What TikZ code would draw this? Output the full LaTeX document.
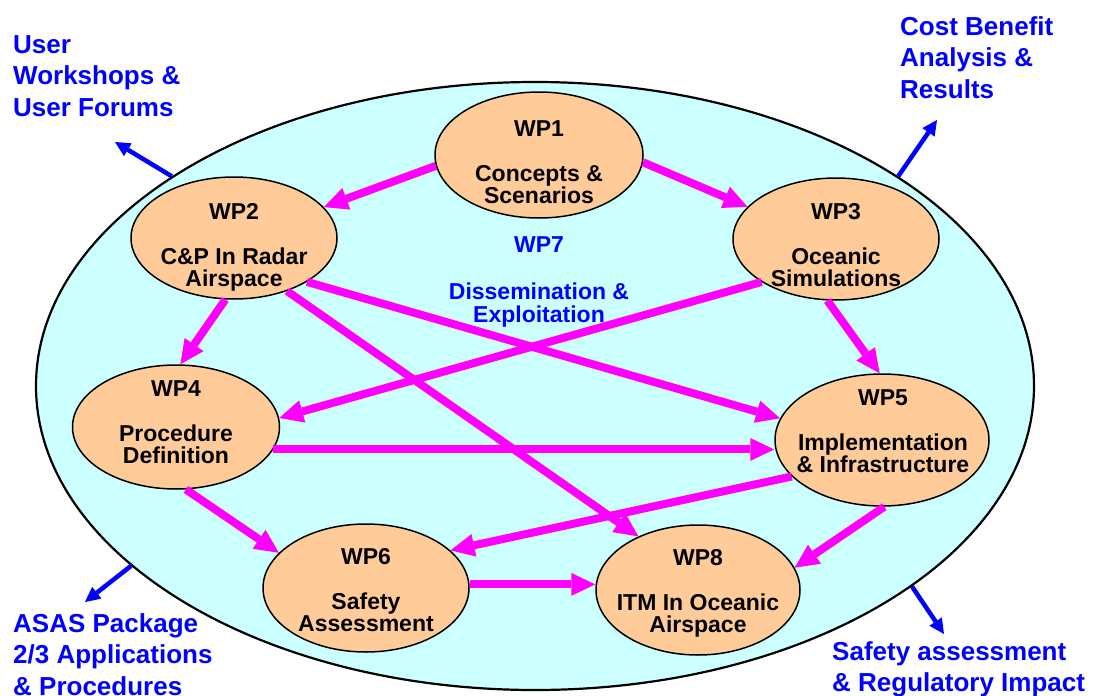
\documentclass[tikz,border=0pt]{standalone}
\usepackage{fontspec}
\setmainfont{Liberation Sans}
\usetikzlibrary{arrows.meta,shapes.geometric}
\definecolor{bgcyan}{HTML}{CCFFFF}
\definecolor{peach}{HTML}{FFCC99}
\definecolor{mag}{HTML}{FF00FF}
\definecolor{blu}{HTML}{0000FF}
\begin{document}
\begin{tikzpicture}[x=1pt,y=-1pt,
  big/.style={ellipse, draw=black, line width=2.2pt, fill=bgcyan, inner sep=0pt, minimum width=998pt, minimum height=608pt},
  wp/.style={ellipse, draw=black, line width=1.5pt, fill=peach, inner sep=0pt},
  lbl/.style={anchor=base, align=center, inner sep=0pt, font=\fontsize{23}{22.5}\selectfont\bfseries},
  mid/.style={anchor=base, align=center, inner sep=0pt, text=blu, font=\fontsize{23}{23.5}\selectfont\bfseries},
  side/.style={anchor=base west, align=left, inner sep=0pt, text=blu, font=\fontsize{26}{31.5}\selectfont\bfseries},
  marr/.style={draw=mag, line width=8pt, -{Triangle[length=24pt,width=23pt,line width=0pt]}},
  barr/.style={draw=blu, line width=4.5pt, -{Triangle[length=15pt,width=15pt,line width=0pt]}}]
\useasboundingbox (0,0) rectangle (1093,696);
\node[big] (all) at (535,386) {};
\node[wp, minimum width=208pt, minimum height=126pt] (wp1) at (539,155) {};
\node[wp, minimum width=206pt, minimum height=122pt] (wp2) at (234,238) {};
\node[wp, minimum width=206pt, minimum height=122pt] (wp3) at (836,239) {};
\node[wp, minimum width=207pt, minimum height=124pt] (wp4) at (176,427) {};
\node[wp, minimum width=214pt, minimum height=132pt] (wp5) at (882,440) {};
\node[wp, minimum width=206pt, minimum height=128pt] (wp6) at (366,588) {};
\node[wp, minimum width=204pt, minimum height=130pt] (wp8) at (698,590) {};
% connectors
\draw[marr] (wp1.186) -- (wp2.19);
\draw[marr] (wp1.356) -- (wp3.160);
\draw[marr] (wp2.262) -- (wp4.86);
\draw[marr] (wp2.-31) -- (wp5.168);
\draw[marr] (wp2.-45) -- (wp8.138);
\draw[marr] (wp3.210) -- (wp4.5);
\draw[marr] (wp3.262) -- (wp5.92);
\draw[marr] (wp4.-13) -- (wp4.-13 -| wp5.west);
\draw[marr] (wp4.279) -- (wp6.158);
\draw[marr] (wp5.202) -- (wp6.24);
\draw[marr] (wp5.272) -- (wp8.13);
\draw[marr] (wp6.2) -- (wp6.2 -| wp8.west);
% labels (anchor = baseline of last line)
\node[lbl] (t1) at (539,203.5) {WP1\\[22.5pt]Concepts \&\\Scenarios};
\node[lbl] (t2) at (234,286.5) {WP2\\[22.5pt]C\&P In Radar\\Airspace};
\node[lbl] (t3) at (836,286.5) {WP3\\[22.5pt]Oceanic\\Simulations};
\node[lbl] (t4) at (176,463.5) {WP4\\[22.5pt]Procedure\\Definition};
\node[lbl] (t5) at (883,472.5) {WP5\\[22.5pt]Implementation\\\& Infrastructure};
\node[lbl] (t6) at (366,631.5) {WP6\\[22.5pt]Safety\\Assessment};
\node[lbl] (t8) at (698,632.5) {WP8\\[22.5pt]ITM In Oceanic\\Airspace};
\node[mid] (wp7) at (539,322.5) {WP7\\[23.5pt]Dissemination \&\\Exploitation};
% outside
\node[side] (uw) at (13,116) {User\\Workshops \&\\User Forums};
\node[side] (cb) at (900,98) {Cost Benefit\\Analysis \&\\Results};
\node[side] (as) at (13,695) {ASAS Package\\2/3 Applications\\\& Procedures};
\node[side] (sa) at (832,691.5) {Safety assessment\\\& Regulatory Impact};
\coordinate (puw) at (115,142);
\coordinate (pcb) at (937,120);
\coordinate (pas) at (85,602);
\coordinate (psa) at (944,634);
\draw[barr] (all.150) -- (puw);
\draw[barr] (all.30) -- (pcb);
\draw[barr] (all.204) -- (pas);
\draw[barr] (all.332) -- (psa);
\end{tikzpicture}
\end{document}
